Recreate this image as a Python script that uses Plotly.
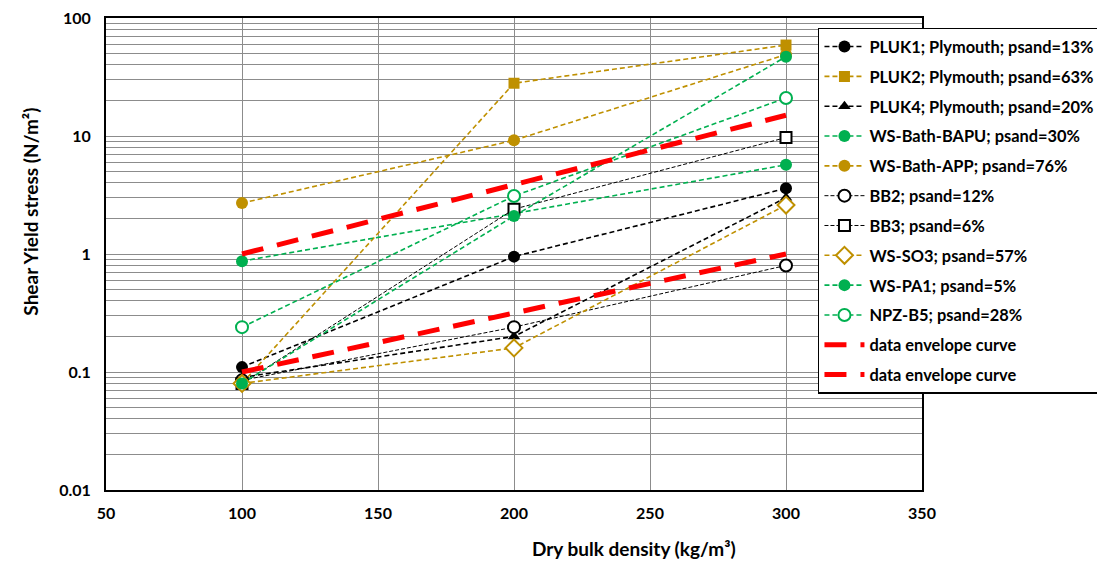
import plotly.graph_objects as go

# ---- data ----
density = [100, 200, 300]
pluk1 = [0.11, 0.95, 3.6]
pluk2 = [0.08, 28, 59]
pluk4 = [0.09, 0.20, 3.0]
ws_bath_bapu = [0.87, 2.2, 5.7]
ws_bath_app = [2.7, 9.2, 49]
bb2 = [0.085, 0.24, 0.80]
bb3 = [0.08, 2.4, 9.7]
ws_so3 = [0.08, 0.16, 2.6]
ws_pa1 = [0.08, 2.1, 47]
npz_b5 = [0.24, 3.1, 21]
env_upper = [1.0, 3.9, 15]
env_lower = [0.1, 0.32, 1.0]

x_ticks = [50, 100, 150, 200, 250, 300, 350]
y_major = [0.01, 0.1, 1, 10, 100]
y_major_labels = ["0.01", "0.1", "1", "10", "100"]

GOLD = "#BF9000"
GREEN = "#00B050"
BLACK = "#000000"
RED = "#FF0000"
FONT = "Lato"

series = [
    ("PLUK1; Plymouth; psand=13%", pluk1, BLACK, "circle", BLACK, 1.6, "5px,3px"),
    ("PLUK2; Plymouth; psand=63%", pluk2, GOLD, "square", GOLD, 1.6, "5px,3px"),
    ("PLUK4; Plymouth; psand=20%", pluk4, BLACK, "triangle-up", BLACK, 1.6, "5px,3px"),
    ("WS-Bath-BAPU; psand=30%", ws_bath_bapu, GREEN, "circle", GREEN, 1.6, "5px,3px"),
    ("WS-Bath-APP; psand=76%", ws_bath_app, GOLD, "circle", GOLD, 1.6, "5px,3px"),
    ("BB2; psand=12%", bb2, BLACK, "circle", "white", 1.0, "4px,2px"),
    ("BB3; psand=6%", bb3, BLACK, "square", "white", 1.0, "4px,2px"),
    ("WS-SO3; psand=57%", ws_so3, GOLD, "diamond", "white", 1.6, "5px,3px"),
    ("WS-PA1; psand=5%", ws_pa1, GREEN, "circle", GREEN, 1.6, "5px,3px"),
    ("NPZ-B5; psand=28%", npz_b5, GREEN, "circle", "white", 1.6, "5px,3px"),
]

fig = go.Figure()
for i, (name, vals, col, sym, fill, lw, dash) in enumerate(series):
    size = 12
    if sym in ("square", "triangle-up"):
        size = 11
    if sym == "diamond":
        size = 13
    fig.add_trace(go.Scatter(
        x=density, y=vals, name=name, mode="lines+markers",
        legendgroup=f"g{i}",
        line=dict(color=col, width=lw, dash=dash),
        marker=dict(symbol=sym, size=size, color=fill,
                    line=dict(color=col, width=2 if fill == "white" else 0)),
    ))

for j, env in enumerate([env_upper, env_lower]):
    fig.add_trace(go.Scatter(
        x=density, y=env, name="data envelope curve", mode="lines",
        legendgroup=f"e{j}",
        line=dict(color=RED, width=5, dash="22px,14px"),
    ))

# log-scale grid positions (all 1..9 multiples per decade)
grid_vals = []
grid_text = []
for d in range(-2, 2):
    for m in range(1, 10):
        v = m * 10.0 ** d
        grid_vals.append(v)
        grid_text.append(y_major_labels[d + 2] if m == 1 else "")
grid_vals.append(100)
grid_text.append(y_major_labels[-1])

fig.update_layout(
    width=1097, height=556,
    paper_bgcolor="white", plot_bgcolor="white",
    margin=dict(l=98, r=183, t=10, b=74, autoexpand=False),
    font=dict(family=FONT, color="black"),
    showlegend=True,
    legend=dict(
        x=0.8725, y=0.979, xanchor="left", yanchor="top",
        bgcolor="white", bordercolor="black", borderwidth=1.5,
        font=dict(family=FONT, size=16.4, color="black", weight="bold"),
        traceorder="grouped", tracegroupgap=5.5,
        itemwidth=40,
    ),
    xaxis=dict(
        range=[50, 350], tickvals=x_ticks, ticktext=[str(t) for t in x_ticks],
        showgrid=True, gridcolor="#8c8c8c", gridwidth=1,
        showline=True, linecolor="black", linewidth=2, mirror=True,
        zeroline=False, ticks="", automargin=False,
        ticklabeloverflow="allow",
        tickfont=dict(family=FONT, size=16, color="black", weight="bold"),
        ticklabelstandoff=8,
    ),
    yaxis=dict(
        type="log", range=[-2, 2], tickvals=grid_vals, ticktext=grid_text,
        showgrid=True, gridcolor="#8c8c8c", gridwidth=1,
        showline=True, linecolor="black", linewidth=2, mirror=True,
        zeroline=False, ticks="", automargin=False,
        ticklabeloverflow="allow",
        tickfont=dict(family=FONT, size=16, color="black", weight="bold"),
        ticklabelstandoff=10,
    ),
)

fig.add_annotation(
    text="Dry bulk density (kg/m³)", xref="paper", yref="paper",
    x=0.647, y=-0.123, xanchor="center", yanchor="middle", showarrow=False,
    font=dict(family=FONT, size=19, color="black", weight="bold"),
)
fig.add_annotation(
    text="Shear Yield stress (N/m²)", xref="paper", yref="paper",
    x=-0.093, y=0.59, xanchor="center", yanchor="middle", showarrow=False,
    textangle=-90,
    font=dict(family=FONT, size=19, color="black", weight="bold"),
)

fig.write_html("out.html")
